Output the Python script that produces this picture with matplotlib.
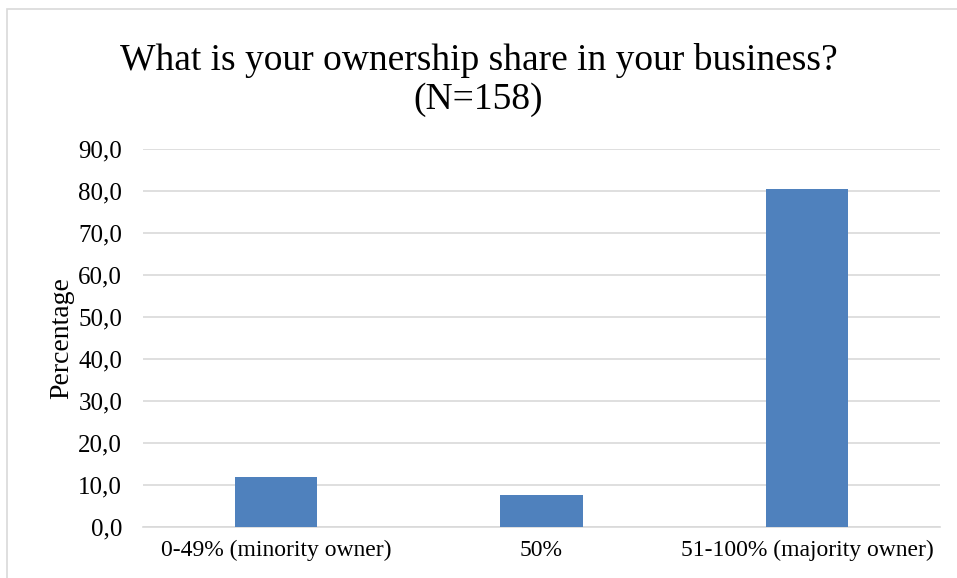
import matplotlib
matplotlib.use("Agg")
import matplotlib.pyplot as plt
from matplotlib.patches import Rectangle
from matplotlib.ticker import FuncFormatter

categories = ["0-49% (minority owner)", "50%", "51-100% (majority owner)"]
percentages = [12.0, 7.6, 80.4]
y_ticks = [0, 10, 20, 30, 40, 50, 60, 70, 80, 90]

plt.rcParams["font.family"] = ["Liberation Serif", "DejaVu Serif"]

fig = plt.figure(figsize=(9.57, 5.78), dpi=100)
ax = fig.add_axes([143 / 957, 51 / 578, 797 / 957, 378 / 578])

# light frame around the chart area
fig.patches.append(Rectangle((7 / 957, -0.01), 1.0, 1 - 9 / 578 + 0.01,
                             transform=fig.transFigure, fill=False,
                             edgecolor="#d9d9d9", linewidth=1.2))

x = range(len(categories))
ax.bar(x, percentages, width=0.31, color="#4f81bd", zorder=3)

ax.set_xlim(-0.5, 2.5)
ax.set_ylim(0, 90)
ax.set_yticks(y_ticks)
ax.yaxis.set_major_formatter(FuncFormatter(lambda v, p: f"{v:.1f}".replace(".", ",")))
ax.set_xticks(list(x))
ax.set_xticklabels(categories)
ax.tick_params(axis="both", length=0, colors="black")
ax.tick_params(axis="y", pad=15, labelsize=18)
ax.tick_params(axis="x", pad=9, labelsize=17)
ax.grid(axis="y", color="#d9d9d9", linewidth=1.2, zorder=0)
for s in ["top", "right", "left"]:
    ax.spines[s].set_visible(False)
ax.spines["bottom"].set_color("#d9d9d9")
ax.spines["bottom"].set_linewidth(1.2)

ax.set_ylabel("Percentage", fontsize=20, labelpad=3)
fig.text(0.5, 0.862, "What is your ownership share in your business?\n(N=158)",
         ha="center", va="center", fontsize=27, linespacing=1.15)

fig.savefig("out.png", dpi=100)
